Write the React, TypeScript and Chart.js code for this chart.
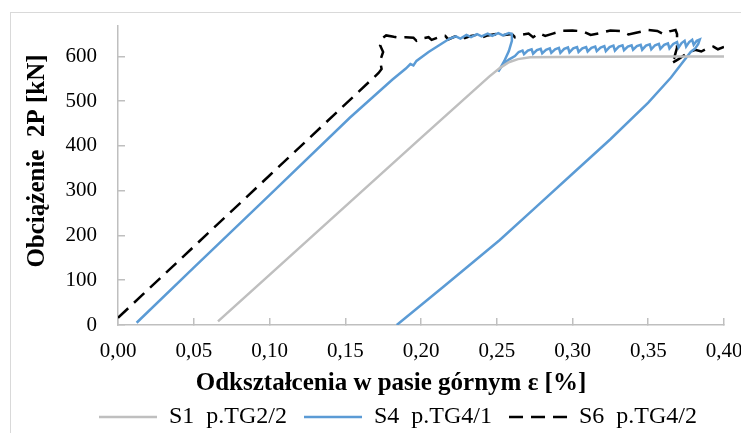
import React, { useEffect, useRef } from 'react';
import { Chart, registerables } from 'chart.js';

Chart.register(...registerables);

// ---- axis ranges / ticks ----
const X_MIN = 0;
const X_MAX = 0.4;
const X_STEP = 0.05;
const Y_MIN = 0;
const Y_MAX = 668;
const Y_STEP = 100;

const X_TITLE = 'Odkształcenia w pasie górnym ε [%]';
const Y_TITLE = 'Obciążenie  2P [kN]';

const SERIES_LABELS = ['S1  p.TG2/2', 'S4  p.TG4/1', 'S6  p.TG4/2'];

// ---- series values: [strain %, load kN] ----
const S1_POINTS: [number, number][] = [
  [0.066, 8], [0.10, 112], [0.15, 265], [0.20, 418], [0.245, 555],
  [0.252, 574], [0.258, 587], [0.264, 594], [0.272, 598], [0.29, 599],
  [0.35, 600], [0.40, 600],
];

const S4_POINTS: [number, number][] = [
  [0.0123, 5], [0.05, 128], [0.10, 290], [0.153, 463], [0.181, 548],
  [0.190, 573], [0.193, 583], [0.195, 580], [0.197, 590], [0.205, 610],
  [0.2125, 626], [0.219, 640], [0.223, 645], [0.226, 640], [0.230, 648],
  [0.233, 643], [0.237, 650], [0.240, 645], [0.244, 651], [0.247, 646],
  [0.251, 652], [0.254, 647], [0.258, 652], [0.260, 650], [0.260, 635],
  [0.258, 612], [0.255, 590], [0.251, 566], [0.254, 582], [0.258, 593],
  [0.262, 601], [0.2645, 610], [0.267, 613], [0.268, 605], [0.2705, 613],
  [0.273, 616], [0.274, 606], [0.2765, 614], [0.279, 617], [0.280, 607],
  [0.2825, 615], [0.285, 618], [0.286, 608], [0.2885, 616], [0.291, 619],
  [0.292, 608], [0.2945, 617], [0.297, 620], [0.298, 609], [0.3005, 618],
  [0.303, 621], [0.304, 610], [0.3065, 618], [0.309, 621], [0.310, 611],
  [0.3125, 619], [0.315, 622], [0.316, 612], [0.3185, 620], [0.321, 623],
  [0.322, 612], [0.3245, 621], [0.327, 624], [0.328, 613], [0.3305, 622],
  [0.333, 625], [0.334, 614], [0.3365, 622], [0.339, 625], [0.340, 615],
  [0.3425, 623], [0.345, 626], [0.346, 615], [0.3485, 624], [0.351, 627],
  [0.352, 616], [0.3545, 625], [0.357, 628], [0.358, 617], [0.3605, 626],
  [0.363, 629], [0.364, 618], [0.3665, 628], [0.369, 632], [0.370, 620],
  [0.372, 630], [0.374, 635], [0.375, 622], [0.377, 632], [0.379, 637],
  [0.380, 626], [0.382, 635], [0.384, 638], [0.383, 628], [0.381, 618],
  [0.378, 610], [0.365, 553], [0.35, 497], [0.325, 415], [0.30, 338],
  [0.2764, 265], [0.252, 190], [0.215, 86], [0.184, 0],
];

const S6_POINTS: [number, number][] = [
  [0, 16], [0.05, 175], [0.10, 334], [0.144, 474], [0.172, 563],
  [0.174, 572], [0.173, 590], [0.175, 610], [0.173, 625], [0.175, 642],
  [0.177, 647], [0.182, 644], [0.186, 642], [0.190, 643], [0.195, 642],
  [0.197, 635], [0.200, 640], [0.205, 643], [0.207, 637], [0.211, 642],
  [0.216, 646], [0.218, 638], [0.222, 644], [0.227, 648], [0.229, 641],
  [0.233, 646], [0.238, 649], [0.240, 642], [0.244, 647], [0.249, 650],
  [0.251, 643], [0.255, 648], [0.260, 650], [0.262, 643], [0.266, 648],
  [0.271, 651], [0.274, 643], [0.278, 652], [0.282, 646], [0.287, 651],
  [0.293, 657], [0.300, 658], [0.307, 656], [0.312, 648], [0.318, 652],
  [0.325, 658], [0.332, 657], [0.337, 649], [0.342, 653], [0.350, 659],
  [0.356, 657], [0.360, 650], [0.364, 656], [0.368, 659], [0.369, 650],
  [0.369, 620], [0.367, 595], [0.365, 584], [0.370, 594], [0.376, 608],
  [0.381, 615], [0.385, 611], [0.389, 618], [0.393, 622], [0.396, 616],
  [0.400, 621],
];

const FONT = "'Liberation Serif', 'Times New Roman', serif";
const AXIS_GRAY = '#bfbfbf';

const LEGEND_X = 99;
const LEGEND_Y = 417;
const LEGEND_FONT = 24;
const LEGEND_PAD = 17;

const X_TITLE_CENTER = 391;
const Y_TITLE_CENTER = 161;

const toXY = (pts: [number, number][]) => pts.map(([x, y]) => ({ x, y }));

function shiftTitle(s: any, d: number, keys: [string, string]) {
  if (!s || s._titleShifted) return;
  const orig = s.drawTitle;
  s.drawTitle = function (...args: any[]) {
    const a = this[keys[0]];
    const b = this[keys[1]];
    this[keys[0]] = a + d;
    this[keys[1]] = b + d;
    orig.apply(this, args);
    this[keys[0]] = a;
    this[keys[1]] = b;
  };
  s._titleShifted = true;
}

const placement = {
  id: 'placement',
  afterLayout(chart: any) {
    const lg = chart.legend;
    if (lg) {
      lg.left = LEGEND_X - LEGEND_PAD;
      lg.top = LEGEND_Y - LEGEND_PAD - LEGEND_FONT / 2;
      lg.bottom = chart.height;
    }
    const xs = chart.scales.x;
    const ys = chart.scales.y;
    shiftTitle(xs, X_TITLE_CENTER - (xs.left + xs.right) / 2, ['left', 'right']);
    shiftTitle(ys, Y_TITLE_CENTER - (ys.top + ys.bottom) / 2, ['top', 'bottom']);
  },
};

export default function App() {
  const ref = useRef<HTMLCanvasElement>(null);

  useEffect(() => {
    const canvas = ref.current;
    if (!canvas) return;
    const chart = new Chart(canvas, {
      type: 'scatter',
      data: {
        datasets: [
          {
            label: SERIES_LABELS[0],
            data: toXY(S1_POINTS),
            showLine: true,
            borderColor: '#bfbfbf',
            backgroundColor: '#bfbfbf',
            borderWidth: 2.5,
            pointRadius: 0,
            tension: 0,
          },
          {
            label: SERIES_LABELS[1],
            data: toXY(S4_POINTS),
            showLine: true,
            borderColor: '#5b9bd5',
            backgroundColor: '#5b9bd5',
            borderWidth: 2.5,
            pointRadius: 0,
            tension: 0,
          },
          {
            label: SERIES_LABELS[2],
            data: toXY(S6_POINTS),
            showLine: true,
            borderColor: '#000000',
            backgroundColor: '#000000',
            borderWidth: 2.5,
            borderDash: [14, 8],
            pointRadius: 0,
            tension: 0,
          },
        ],
      },
      options: {
        responsive: false,
        animation: false,
        devicePixelRatio: 1,
        layout: { padding: { left: 10, top: 26, right: 25, bottom: 0 } },
        plugins: {
          tooltip: { enabled: false },
          legend: {
            position: 'bottom',
            align: 'start',
            maxHeight: 30,
            labels: {
              usePointStyle: true,
              pointStyle: 'line',
              pointStyleWidth: 58,
              padding: LEGEND_PAD,
              color: '#000',
              font: { family: FONT, size: LEGEND_FONT },
              generateLabels: (ch: any) => {
                const items = (Chart.defaults.plugins.legend.labels as any).generateLabels(ch);
                items.forEach((it: any) => {
                  const ds: any = ch.data.datasets[it.datasetIndex];
                  it.lineDash = ds.borderDash || [];
                  it.lineWidth = ds.borderWidth;
                  it.strokeStyle = ds.borderColor;
                  it.pointStyle = 'line';
                });
                return items;
              },
            },
          },
        },
        scales: {
          x: {
            type: 'linear',
            min: X_MIN,
            max: X_MAX,
            bounds: 'data',
            afterFit: (s: any) => {
              s.height = 86;
              s.paddingLeft = 0;
              s.paddingRight = 0;
            },
            border: { display: true, color: AXIS_GRAY, width: 1.5 },
            grid: {
              display: true,
              drawOnChartArea: false,
              drawTicks: true,
              tickLength: -7,
              color: AXIS_GRAY,
              lineWidth: 1.5,
            },
            ticks: {
              stepSize: X_STEP,
              autoSkip: false,
              maxRotation: 0,
              padding: 21,
              color: '#000',
              font: { family: FONT, size: 21 },
              callback: (v: any) => Number(v).toFixed(2).replace('.', ','),
            },
            title: {
              display: true,
              text: X_TITLE,
              color: '#000',
              font: { family: FONT, size: 25, weight: 'bold', lineHeight: 1 },
              padding: { top: 0, bottom: 14.5 },
            },
          },
          y: {
            type: 'linear',
            min: Y_MIN,
            max: Y_MAX,
            bounds: 'data',
            afterBuildTicks: (s: any) => {
              s.ticks = s.ticks.filter((t: any) => t.value % Y_STEP === 0);
            },
            afterFit: (s: any) => {
              s.width = 108;
              s.paddingTop = 0;
              s.paddingBottom = 0;
            },
            border: { display: true, color: AXIS_GRAY, width: 1.5 },
            grid: {
              display: true,
              drawOnChartArea: false,
              drawTicks: true,
              tickLength: -7,
              color: AXIS_GRAY,
              lineWidth: 1.5,
            },
            ticks: {
              stepSize: Y_STEP,
              padding: 28,
              color: '#000',
              font: { family: FONT, size: 21 },
            },
            title: {
              display: true,
              text: Y_TITLE,
              color: '#000',
              font: { family: FONT, size: 25, weight: 'bold', lineHeight: 1 },
              padding: { top: 15, bottom: 0 },
            },
          },
        },
      } as any,
      plugins: [placement],
    });
    return () => chart.destroy();
  }, []);

  return (
    <div
      style={{
        position: 'relative',
        width: 749,
        height: 441,
        margin: -8,
        overflow: 'hidden',
        background: '#fff',
      }}
    >
      <div
        style={{
          position: 'absolute',
          left: 10,
          top: 12,
          width: 800,
          height: 500,
          border: '1px solid #d9d9d9',
        }}
      />
      <canvas
        ref={ref}
        width={749}
        height={441}
        style={{ position: 'absolute', left: 0, top: 0, width: 749, height: 441 }}
      />
    </div>
  );
}
